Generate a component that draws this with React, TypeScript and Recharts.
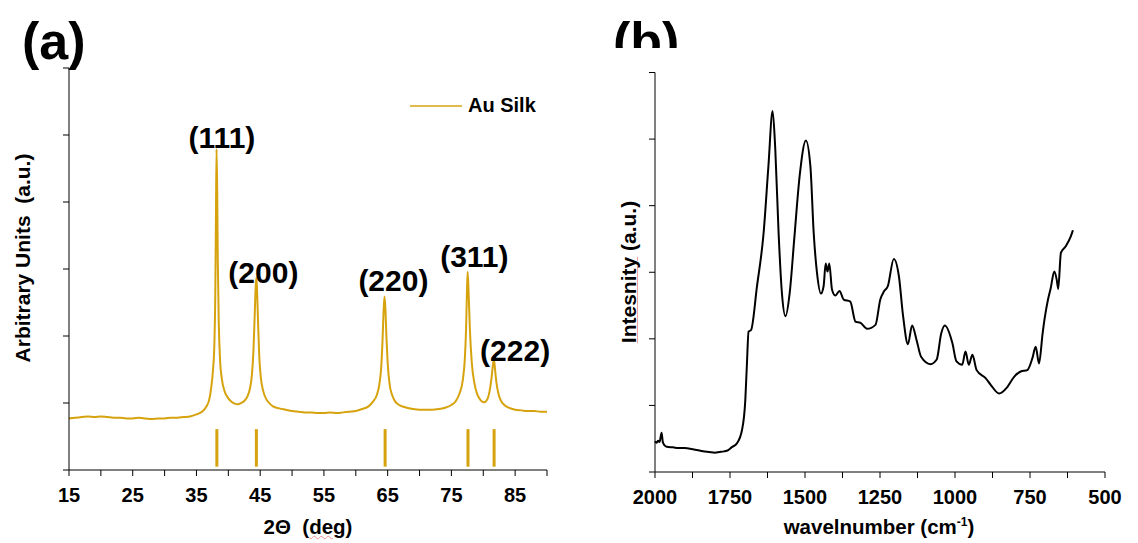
import {
  LineChart,
  Line,
  XAxis,
  YAxis,
  ReferenceLine,
  ReferenceDot,
  Legend,
} from "recharts";

const FONT = '"Liberation Sans", Arial, sans-serif';
const GOLD = "#D6A30E";

// (a) XRD pattern, Au silk
const xrdTheta = [
  15, 16, 17, 18, 19, 20, 21, 22, 23, 24, 25, 26, 27, 28, 29, 30, 31, 32, 33, 34,
  35, 35.5, 36, 36.5, 37, 37.3, 37.6, 37.8, 37.95, 38.05, 38.15, 38.25, 38.35,
  38.5, 38.7, 39, 39.4, 40, 40.5, 41, 41.5, 42, 42.5, 43, 43.4, 43.7, 43.95,
  44.15, 44.3, 44.4, 44.5, 44.65, 44.85, 45.1, 45.5, 46, 46.5, 47, 48, 49, 50,
  51, 52, 53, 54, 55, 56, 57, 58, 59, 60, 61, 62, 62.7, 63.3, 63.7, 64, 64.2,
  64.35, 64.5, 64.65, 64.8, 65, 65.3, 65.7, 66.2, 67, 68, 69, 70, 71, 72, 73,
  74, 75, 75.7, 76.3, 76.8, 77.1, 77.3, 77.45, 77.55, 77.7, 77.9, 78.2, 78.6,
  79.1, 79.6, 80.1, 80.6, 81, 81.3, 81.5, 81.65, 81.75, 81.9, 82.1, 82.4, 82.8,
  83.3, 84, 85, 86, 87, 88, 89, 90,
];
const xrdCounts = [
  0.77, 0.78, 0.79, 0.8, 0.79, 0.8, 0.79, 0.78, 0.78, 0.77, 0.77, 0.78, 0.77,
  0.76, 0.77, 0.77, 0.78, 0.78, 0.79, 0.8, 0.83, 0.85, 0.88, 0.94, 1.05, 1.22,
  1.5, 1.85, 2.6, 3.7, 4.79, 4.2, 3.1, 2.2, 1.65, 1.35, 1.18, 1.07, 1.02, 0.99,
  0.98, 1.0, 1.03, 1.1, 1.22, 1.42, 1.8, 2.35, 2.75, 2.87, 2.7, 2.25, 1.7, 1.38,
  1.17, 1.05, 0.99, 0.95, 0.92, 0.9, 0.88, 0.87, 0.86, 0.86, 0.85, 0.85, 0.86,
  0.85, 0.86, 0.87, 0.88, 0.91, 0.95, 1.02, 1.12, 1.28, 1.55, 1.95, 2.35, 2.59,
  2.4, 2.0, 1.6, 1.28, 1.12, 1.02, 0.96, 0.93, 0.91, 0.9, 0.9, 0.9, 0.91, 0.93,
  0.97, 1.03, 1.15, 1.35, 1.65, 2.1, 2.7, 2.96, 2.65, 2.1, 1.6, 1.3, 1.12, 1.04,
  1.01, 1.05, 1.18, 1.38, 1.55, 1.65, 1.6, 1.45, 1.28, 1.13, 1.03, 0.97, 0.93,
  0.9, 0.89, 0.88, 0.88, 0.87, 0.87,
];
const refPositions = [38.2, 44.4, 64.6, 77.6, 81.7];
const peakNames = ["(111)", "(200)", "(220)", "(311)", "(222)"];
const peakLabelX = [39.0, 45.5, 65.9, 78.6, 85.0];
const peakLabelY = [4.97, 2.95, 2.83, 3.19, 1.78];
const thetaTicks = [15, 20, 25, 30, 35, 40, 45, 50, 55, 60, 65, 70, 75, 80, 85, 90];

// (b) FTIR spectrum
const ftirWavenumber = [
  2000, 1995, 1990, 1985, 1978, 1974, 1968, 1961, 1940, 1920, 1900, 1883, 1860,
  1840, 1820, 1800, 1785, 1770, 1756, 1745, 1727, 1710, 1699, 1694, 1688, 1680,
  1660, 1638, 1622, 1608, 1599, 1588, 1577, 1565, 1551, 1536, 1518, 1497, 1482,
  1471, 1460, 1447, 1438, 1431, 1425, 1419, 1410, 1399, 1385, 1371, 1349, 1332,
  1315, 1293, 1265, 1249, 1237, 1224, 1204, 1187, 1173, 1157, 1143, 1128, 1113,
  1082, 1061, 1046, 1034, 1009, 995, 976, 965, 954, 942, 928, 898, 881, 853,
  825, 803, 781, 759, 742, 731, 720, 708, 701, 690, 681, 669, 661, 656, 647,
  631, 614, 607,
];
const ftirAbs = [
  0.46, 0.44, 0.47, 0.45, 0.59, 0.45, 0.4, 0.38, 0.37, 0.36, 0.36, 0.35, 0.33,
  0.31, 0.3, 0.29, 0.3, 0.31, 0.33, 0.37, 0.43, 0.63, 1.08, 1.58, 2.11, 2.13,
  2.79, 3.59, 4.59, 5.42, 4.84, 3.59, 2.69, 2.34, 2.69, 3.49, 4.44, 4.98, 4.59,
  3.59, 2.99, 2.68, 2.79, 3.13, 3.01, 3.13, 2.74, 2.65, 2.72, 2.59, 2.56, 2.26,
  2.24, 2.15, 2.21, 2.59, 2.71, 2.79, 3.2, 2.94, 2.34, 1.92, 2.2, 1.98, 1.73,
  1.62, 1.69, 2.08, 2.2, 1.94, 1.66, 1.61, 1.81, 1.61, 1.76, 1.53, 1.41, 1.31,
  1.18, 1.28, 1.43, 1.51, 1.53, 1.71, 1.88, 1.63, 2.08, 2.31, 2.59, 2.76, 3.01,
  2.89, 2.75, 3.29, 3.39, 3.54, 3.63,
];
const wnTicks = [500, 625, 750, 875, 1000, 1125, 1250, 1375, 1500, 1625, 1750, 1875, 2000];

const yTicks = [0, 1, 2, 3, 4, 5, 6];

const xrdData = xrdTheta.map((t, i) => ({ t, y: xrdCounts[i] }));
const ftirData = ftirWavenumber.map((w, i) => ({ w, y: ftirAbs[i] }));

const tickStyle = { fontSize: 20, fontWeight: 700, fill: "#000", fontFamily: FONT };

const abs = (left: number, top: number, extra: React.CSSProperties = {}): React.CSSProperties => ({
  position: "absolute",
  left,
  top,
  fontFamily: FONT,
  fontWeight: 700,
  color: "#000",
  whiteSpace: "pre",
  ...extra,
});

const AuLegend = () => (
  <div style={{ display: "flex", alignItems: "center", fontFamily: FONT }}>
    <svg width={52} height={4}>
      <line x1={0} y1={2} x2={52} y2={2} stroke={GOLD} strokeWidth={1.5} />
    </svg>
    <span style={{ marginLeft: 6, fontSize: 20, fontWeight: 700, color: "#000" }}>Au Silk</span>
  </div>
);

export default function App() {
  return (
    <div
      style={{
        position: "absolute",
        left: 0,
        top: 0,
        width: 1138,
        height: 543,
        background: "#fff",
        overflow: "hidden",
      }}
    >
      {/* panel (a) */}
      <div style={{ position: "absolute", left: 0, top: 0 }}>
        <LineChart
          width={600}
          height={543}
          data={xrdData}
          margin={{ top: 68, right: 53, bottom: 43, left: 59 }}
        >
          <XAxis
            dataKey="t"
            type="number"
            domain={[15, 90]}
            ticks={thetaTicks}
            tickFormatter={(v) => (v % 10 === 5 ? String(v) : "")}
            height={30}
            stroke="#000"
            tickSize={6}
            tickMargin={12}
            tick={tickStyle}
            interval={0}
          />
          <YAxis
            type="number"
            domain={[0, 6]}
            ticks={yTicks}
            tickFormatter={() => ""}
            width={10}
            stroke="#000"
            tickSize={6}
          />
          <Legend
            layout="horizontal"
            verticalAlign="middle"
            align="center"
            wrapperStyle={{ left: 410, top: 94, width: 160 }}
            content={() => <AuLegend />}
          />
          {refPositions.map((x) => (
            <ReferenceLine
              key={x}
              segment={[
                { x, y: 0.05 },
                { x, y: 0.61 },
              ]}
              stroke={GOLD}
              strokeWidth={3}
              ifOverflow="visible"
            />
          ))}
          <Line
            dataKey="y"
            name="Au Silk"
            type="monotone"
            stroke={GOLD}
            strokeWidth={2}
            dot={false}
            isAnimationActive={false}
          />
          {peakNames.map((name, i) => (
            <ReferenceDot
              key={name}
              x={peakLabelX[i]}
              y={peakLabelY[i]}
              r={0}
              fill="none"
              stroke="none"
              ifOverflow="visible"
              label={{
                value: name,
                position: "center",
                fill: "#000",
                fontSize: 30,
                fontWeight: 700,
                fontFamily: FONT,
              }}
            />
          ))}
        </LineChart>
      </div>

      {/* panel (b) */}
      <div style={{ position: "absolute", left: 570, top: 0 }}>
        <LineChart
          width={568}
          height={543}
          data={ftirData}
          margin={{ top: 72.5, right: 33, bottom: 41, left: 75 }}
        >
          <XAxis
            dataKey="w"
            type="number"
            domain={[500, 2000]}
            reversed
            ticks={wnTicks}
            tickFormatter={(v) => (v % 250 === 0 ? String(v) : "")}
            height={30}
            stroke="#000"
            tickSize={6}
            tickMargin={12}
            tick={tickStyle}
            interval={0}
          />
          <YAxis
            type="number"
            domain={[0, 6]}
            ticks={yTicks}
            tickFormatter={() => ""}
            width={10}
            stroke="#000"
            tickSize={6}
          />
          <Line
            dataKey="y"
            type="monotone"
            stroke="#000"
            strokeWidth={2}
            dot={false}
            isAnimationActive={false}
          />
        </LineChart>
      </div>

      {/* panel letters; (b) is cut off by the plot frame as in the original */}
      <div style={abs(22, 15, { fontSize: 52, lineHeight: "52px" })}>(a)</div>
      <div
        style={{
          position: "absolute",
          left: 613,
          top: 0,
          width: 80,
          height: 48,
          overflow: "hidden",
        }}
      >
        <div style={abs(0, 15, { fontSize: 52, lineHeight: "52px" })}>(b)</div>
      </div>

      {/* axis titles */}
      <div style={abs(208, 517, { width: 200, textAlign: "center", fontSize: 20.5, lineHeight: "20px" })}>
        {"2Θ  ("}
        <span style={{ textDecoration: "underline wavy #f09090", textDecorationThickness: 1 }}>deg</span>
        {")"}
      </div>
      <div style={abs(729, 517, { width: 300, textAlign: "center", fontSize: 20.5, lineHeight: "20px" })}>
        wavelnumber (cm<sup style={{ fontSize: 12, lineHeight: 0 }}>-1</sup>)
      </div>
      <div
        style={abs(23 - 130, 258 - 10, {
          width: 260,
          textAlign: "center",
          fontSize: 21,
          lineHeight: "20px",
          transform: "rotate(-90deg)",
        })}
      >
        {"Arbitrary Units  (a.u.)"}
      </div>
      <div
        style={abs(629 - 100, 272 - 10, {
          width: 200,
          textAlign: "center",
          fontSize: 21,
          lineHeight: "20px",
          transform: "rotate(-90deg)",
        })}
      >
        <span style={{ textDecoration: "underline #f4a0a0", textDecorationThickness: 1 }}>Intesnity</span>
        {" (a.u.)"}
      </div>
    </div>
  );
}
